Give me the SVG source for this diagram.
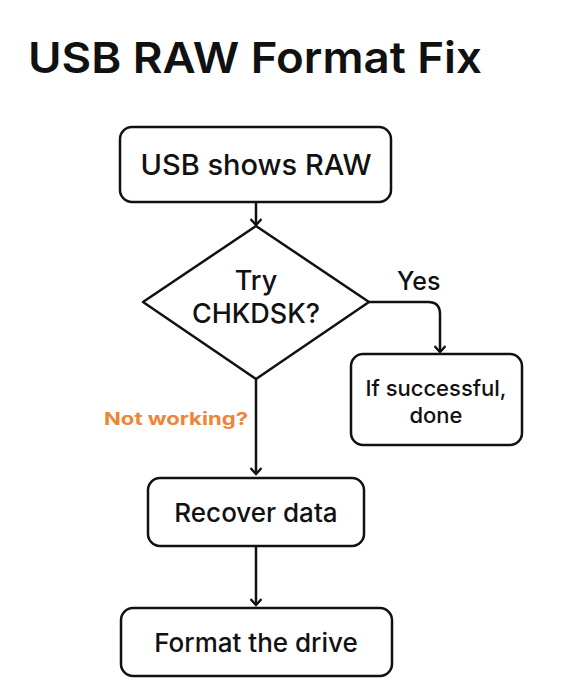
<svg xmlns="http://www.w3.org/2000/svg" width="575" height="696" viewBox="0 0 575 696">
<defs>
<style>
.t{font-family:Inter,"Noto Sans","Liberation Sans",sans-serif;fill:#111;font-weight:550;}
.box{fill:#fff;stroke:#111;stroke-width:2.5;}
.ln{fill:none;stroke:#111;stroke-width:2.5;}
</style>
<marker id="ah" viewBox="0 0 12 12" refX="10.5" refY="6" markerWidth="12" markerHeight="12" markerUnits="userSpaceOnUse" orient="auto">
<path d="M4.5,0.5 L10.5,6 L4.5,11.5" fill="none" stroke="#111" stroke-width="2.3" stroke-linejoin="miter"/>
</marker>
</defs>
<rect width="575" height="696" fill="#fff"/>
<text class="t" x="28" y="73" font-size="43" style="font-weight:600" textLength="454" lengthAdjust="spacingAndGlyphs">USB RAW Format Fix</text>
<g id="connectors">
<path class="ln" d="M256,202 L256,225" marker-end="url(#ah)"/>
<path class="ln" d="M369,302 L428,302 Q440,302 440,314 L440,352" marker-end="url(#ah)"/>
<path class="ln" d="M256,379 L256,474" marker-end="url(#ah)"/>
<path class="ln" d="M256,546 L256,605" marker-end="url(#ah)"/>
<text class="t" x="397" y="290" font-size="25">Yes</text>
<text x="104" y="425" font-size="18" font-weight="700" fill="#EE8435" font-family="Inter,'Noto Sans','Liberation Sans',sans-serif" textLength="144" lengthAdjust="spacingAndGlyphs">Not working?</text>
</g>
<g id="usb-raw">
<rect class="box" x="120" y="127" width="271" height="75" rx="12"/>
<text class="t" x="256" y="175" font-size="29" text-anchor="middle">USB shows RAW</text>
</g>
<g id="chkdsk">
<path class="box" d="M256,226 L369,302 L256,379 L143,302 Z" stroke-linejoin="round"/>
<text class="t" x="256" y="290" font-size="27" text-anchor="middle">Try</text>
<text class="t" x="256" y="323" font-size="27" text-anchor="middle">CHKDSK?</text>
</g>
<g id="success">
<rect class="box" x="351" y="354" width="171" height="91" rx="12"/>
<text class="t" x="436" y="396" font-size="22" text-anchor="middle">If successful,</text>
<text class="t" x="436" y="423" font-size="22" text-anchor="middle">done</text>
</g>
<g id="recover">
<rect class="box" x="148" y="478" width="216" height="68" rx="12"/>
<text class="t" x="256" y="522" font-size="26" text-anchor="middle">Recover data</text>
</g>
<g id="format">
<rect class="box" x="121" y="608" width="271" height="68" rx="12"/>
<text class="t" x="256" y="652" font-size="26" text-anchor="middle">Format the drive</text>
</g>
</svg>
